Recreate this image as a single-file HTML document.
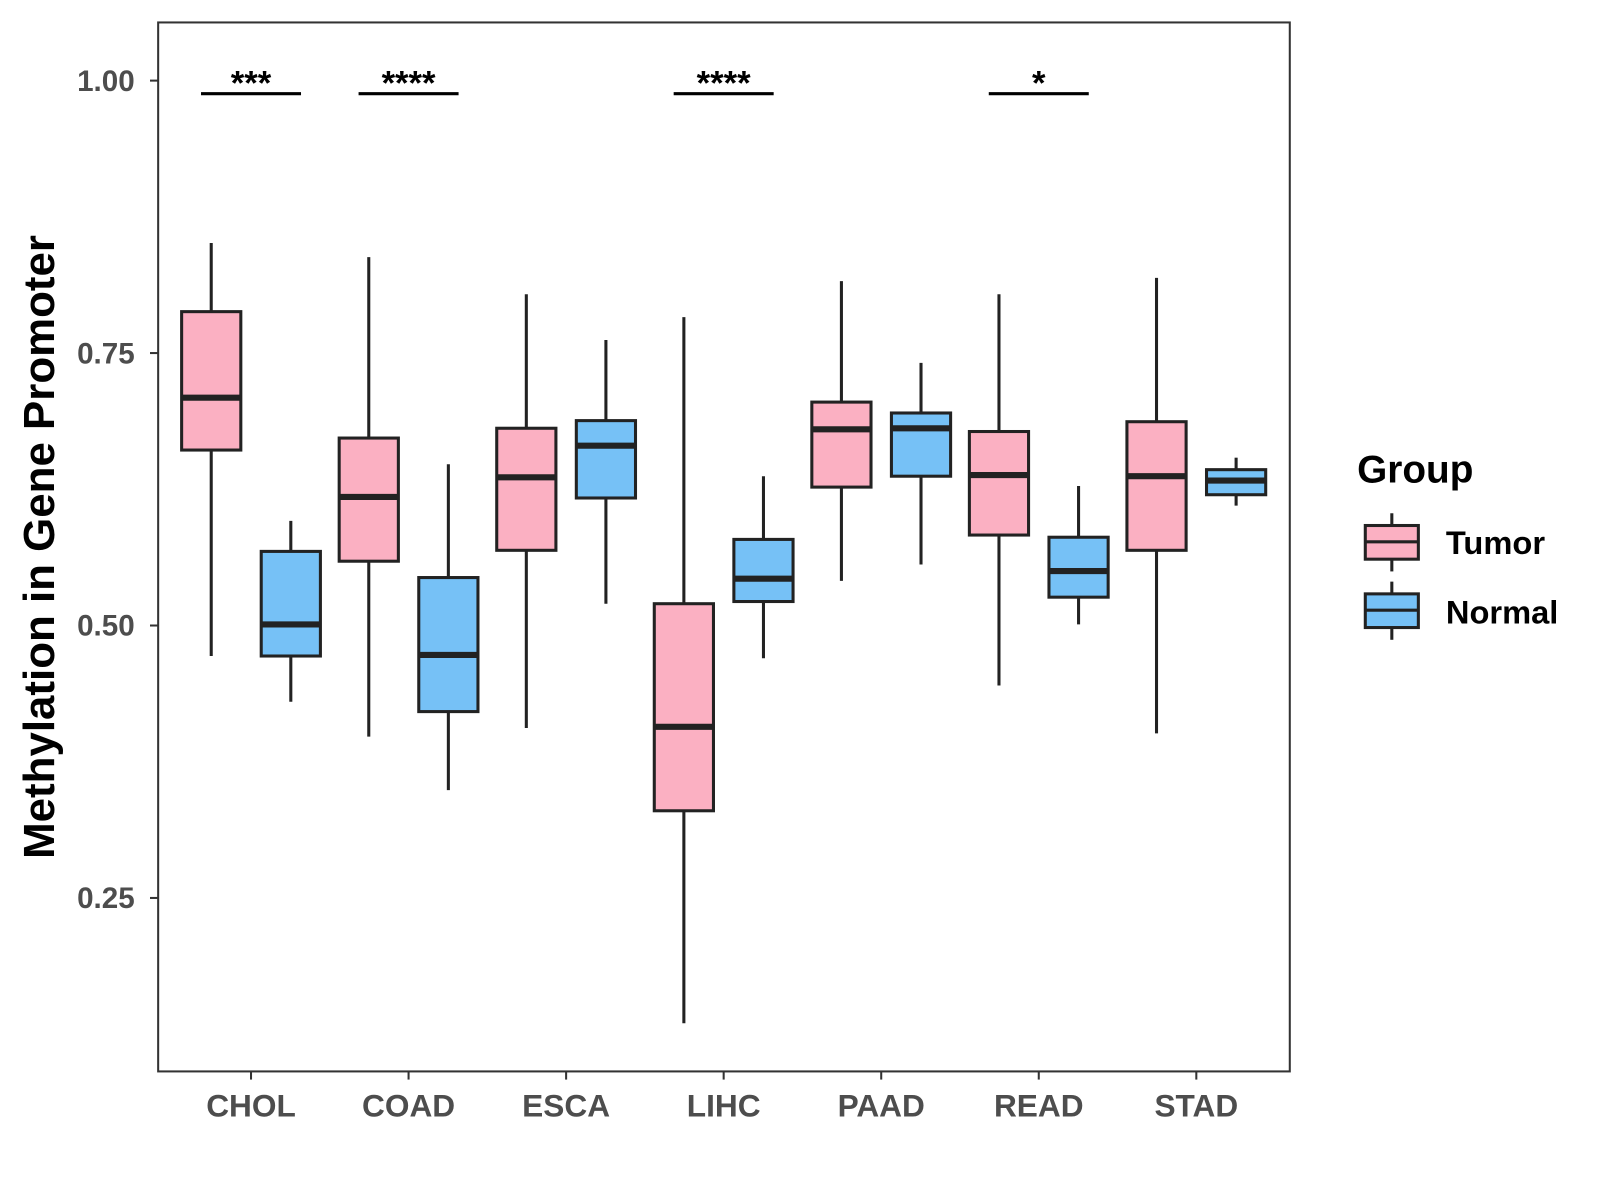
<!DOCTYPE html>
<html><head><meta charset="utf-8"><style>
body{margin:0;background:#fff}
svg{display:block;font-family:"Liberation Sans",Arial,sans-serif}
</style></head><body>
<svg id="chart" width="1600" height="1200" viewBox="0 0 1600 1200">
<g transform="scale(1.0204)">
<rect x="155" y="22" width="1109" height="1028" fill="#fff" stroke="#333" stroke-width="2"/>
<g id="marks"></g>
<g id="axes"></g>
<text transform="translate(53,536) rotate(-90)" text-anchor="middle" font-size="43" font-weight="bold" fill="#000">Methylation in Gene Promoter</text>
<g>
<text x="1330" y="473" font-size="38" font-weight="bold">Group</text>
<g>
<line x1="1364" y1="503" x2="1364" y2="560" stroke="#222" stroke-width="3"/>
<rect x="1338" y="515" width="52" height="33" fill="#FBB0C2" stroke="#222" stroke-width="3"/>
<line x1="1338" y1="531" x2="1390" y2="531" stroke="#222" stroke-width="3"/>
<text x="1417" y="543" font-size="32" font-weight="bold">Tumor</text></g>
<g>
<line x1="1364" y1="570" x2="1364" y2="627" stroke="#222" stroke-width="3"/>
<rect x="1338" y="582" width="52" height="33" fill="#76C1F6" stroke="#222" stroke-width="3"/>
<line x1="1338" y1="598" x2="1390" y2="598" stroke="#222" stroke-width="3"/>
<text x="1417" y="611" font-size="32" font-weight="bold">Normal</text></g>
</g>
</g>
</svg>
<script>
const categories=["CHOL","COAD","ESCA","LIHC","PAAD","READ","STAD"];
const tumorLow=[0.472,0.398,0.406,0.135,0.541,0.445,0.401];
const tumorQ1=[0.661,0.559,0.569,0.330,0.627,0.583,0.569];
const tumorMed=[0.709,0.618,0.636,0.407,0.680,0.638,0.637];
const tumorQ3=[0.788,0.672,0.681,0.520,0.705,0.678,0.687];
const tumorHigh=[0.851,0.838,0.804,0.783,0.816,0.804,0.819];
const normalLow=[0.430,0.349,0.520,0.470,0.556,0.501,0.610];
const normalQ1=[0.472,0.421,0.617,0.522,0.637,0.526,0.620];
const normalMed=[0.501,0.473,0.665,0.543,0.681,0.550,0.633];
const normalQ3=[0.568,0.544,0.688,0.579,0.695,0.581,0.643];
const normalHigh=[0.596,0.648,0.762,0.637,0.741,0.628,0.654];
const sigLabels=["***","****","","****","","*",""];
const yTicks=[0.25,0.50,0.75,1.00];
const yTickLabels=["0.25","0.50","0.75","1.00"];
const sigLevel=0.988;

const NS="http://www.w3.org/2000/svg";
const y=v=>79+(1-v)*1068;
const x=i=>246+i*154.4;
const marks=document.getElementById('marks'),axes=document.getElementById('axes');
function mk(tag,attrs,parent){const e=document.createElementNS(NS,tag);for(const k in attrs)e.setAttribute(k,attrs[k]);parent.appendChild(e);return e;}
function box(cx,lo,q1,md,q3,hi,fill,name,i){
 const g=mk('g',{},marks);
 
 
 mk('line',{x1:cx,x2:cx,y1:y(hi),y2:y(lo),stroke:'#222','stroke-width':3},g);
 mk('rect',{x:cx-29,y:y(q3),width:58,height:y(q1)-y(q3),fill:fill,stroke:'#222','stroke-width':3},g);
 mk('line',{x1:cx-29,x2:cx+29,y1:y(md),y2:y(md),stroke:'#222','stroke-width':6},g);
}
categories.forEach((c,i)=>{
 box(x(i)-39,tumorLow[i],tumorQ1[i],tumorMed[i],tumorQ3[i],tumorHigh[i],'#FBB0C2','tumor',i);
 box(x(i)+39,normalLow[i],normalQ1[i],normalMed[i],normalQ3[i],normalHigh[i],'#76C1F6','normal',i);
 if(sigLabels[i]){
  const g=mk('g',{},marks);
  
  
  mk('line',{x1:x(i)-49,x2:x(i)+49,y1:y(sigLevel),y2:y(sigLevel),stroke:'#000','stroke-width':3},g);
  const t=mk('text',{x:x(i),y:y(sigLevel)+1,'text-anchor':'middle','font-size':34,'font-weight':'bold'},g);
  t.textContent=sigLabels[i];
 }
 mk('line',{x1:x(i),x2:x(i),y1:1050,y2:1058,stroke:'#333','stroke-width':2},axes);
 const t=mk('text',{x:x(i),y:1094,'text-anchor':'middle','font-size':31,'font-weight':'bold',fill:'#4d4d4d'},axes);
 
 
 t.textContent=c;
});
yTicks.forEach((v,i)=>{
 mk('line',{x1:147,x2:155,y1:y(v),y2:y(v),stroke:'#333','stroke-width':2},axes);
 const t=mk('text',{x:132,y:y(v)+10,'text-anchor':'end','font-size':29,'font-weight':'bold',fill:'#4d4d4d'},axes);
 
 
 t.textContent=yTickLabels[i];
});
</script>
</body></html>
